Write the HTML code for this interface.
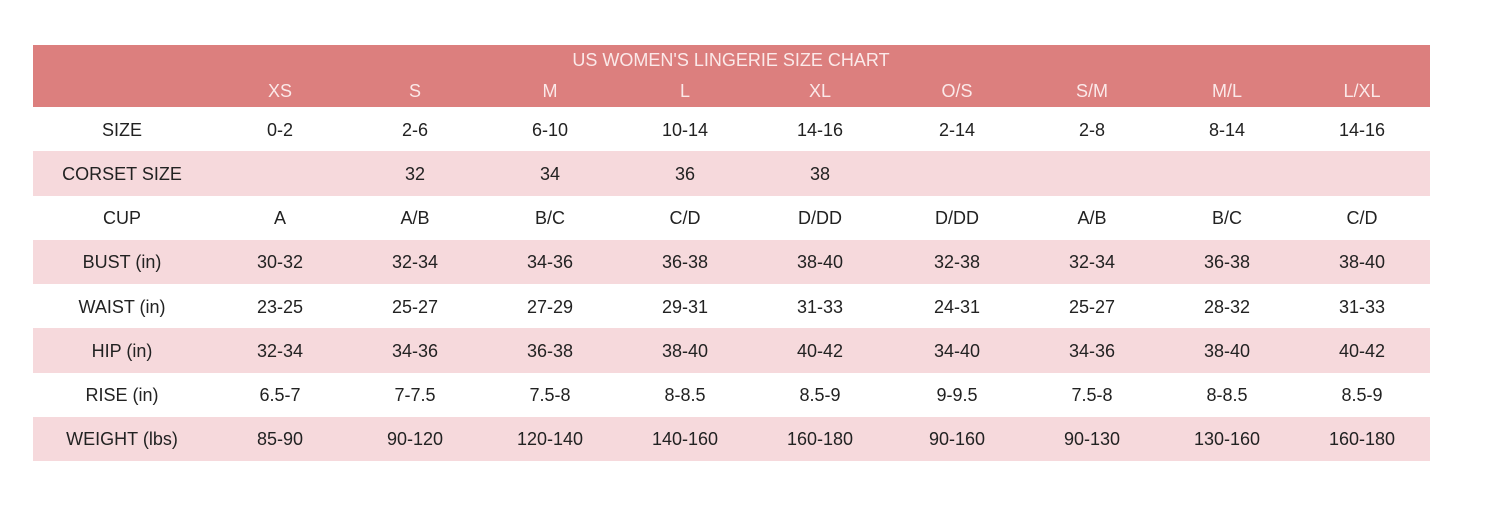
<!DOCTYPE html>
<html><head><style>
body{margin:0;width:1491px;height:521px;background:#fff;font-family:"Liberation Sans",sans-serif;position:relative;overflow:hidden}
.r{position:absolute;left:33px;width:1397px;display:flex;align-items:center}
.c{position:absolute;top:1px;height:100%;display:flex;align-items:center;justify-content:center;font-size:18px;color:#222;transform:translateX(-50%);white-space:nowrap}
.h{background:#dc7f7e}
.p{background:#f6d9dc}
.h .c{color:#fbe9e9;top:0}
</style></head><body>
<div class="r h" style="top:45px;height:62px"></div>
<div id="t"></div>
<script>
const cx=[122,280,415,550,685,820,957,1092,1227,1362];
const rows=[
["","XS","S","M","L","XL","O/S","S/M","M/L","L/XL"],
["SIZE","0-2","2-6","6-10","10-14","14-16","2-14","2-8","8-14","14-16"],
["CORSET SIZE","","32","34","36","38","","","",""],
["CUP","A","A/B","B/C","C/D","D/DD","D/DD","A/B","B/C","C/D"],
["BUST (in)","30-32","32-34","34-36","36-38","38-40","32-38","32-34","36-38","38-40"],
["WAIST (in)","23-25","25-27","27-29","29-31","31-33","24-31","25-27","28-32","31-33"],
["HIP (in)","32-34","34-36","36-38","38-40","40-42","34-40","34-36","38-40","40-42"],
["RISE (in)","6.5-7","7-7.5","7.5-8","8-8.5","8.5-9","9-9.5","7.5-8","8-8.5","8.5-9"],
["WEIGHT (lbs)","85-90","90-120","120-140","140-160","160-180","90-160","90-130","130-160","160-180"]];
let h='<div class="r h" style="top:45px;height:30px"><div class="c" style="left:698px">US WOMEN\'S LINGERIE SIZE CHART</div></div>';
rows.forEach((r,i)=>{
 let top,ht,cls='';
 if(i==0){top=75;ht=32;cls='h'}else{top=107+(i-1)*44.25;ht=44.25;if(i%2==0)cls='p'}
 h+=`<div class="r ${cls}" style="top:${top}px;height:${ht}px">`;
 r.forEach((v,j)=>{h+=`<div class="c" style="left:${cx[j]-33}px">${v}</div>`});
 h+='</div>';
});
document.getElementById('t').innerHTML=h;
</script>
</body></html>
